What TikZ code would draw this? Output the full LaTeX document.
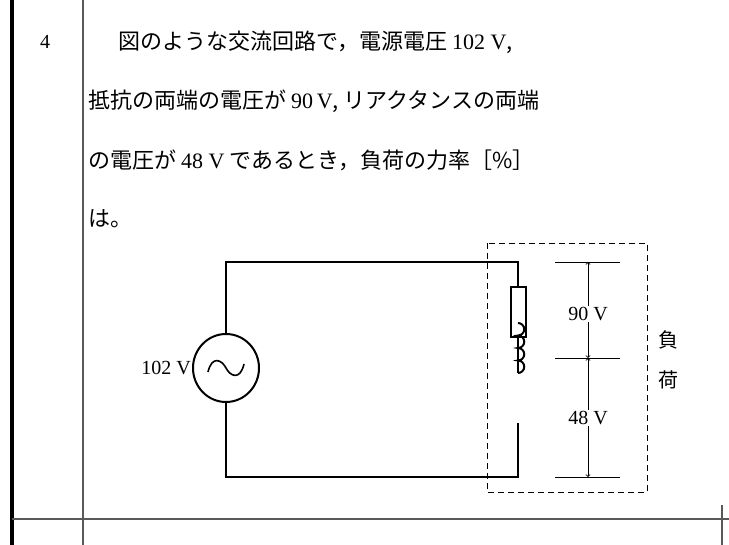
\documentclass[tikz,border=0pt]{standalone}
\usepackage{fontspec}
\usetikzlibrary{shapes.geometric}
\setmainfont{Liberation Serif}
\newfontfamily\jp{Noto Sans CJK JP}
\begin{document}
\begin{tikzpicture}[x=1pt,y=-1pt,
  wire/.style={line width=2pt},
  thin/.style={line width=0.8pt},
  lbl/.style={font=\fontsize{20}{20}\selectfont, inner sep=1pt},
  txt/.style={font=\jp\fontsize{22}{22}\selectfont, anchor=west, inner sep=0pt}]
\useasboundingbox (0,0) rectangle (729,545);
% table
\draw[line width=4pt] (12,0) -- (12,545);
\draw[line width=1.2pt, gray!70!black] (83,0) -- (83,545);
\draw[line width=1.2pt, gray!70!black] (12,519) -- (729,519);
\draw[line width=1.2pt, gray!70!black] (722,505) -- (722,545);
\node[lbl] (num) at (45,42) {4};
% text
\node[txt] (l1) at (118,42) {図のような交流回路で，電源電圧 {\rmfamily 102 V},};
\node[txt] (l2) at (88,101) {抵抗の両端の電圧が {\rmfamily 90\,V}, リアクタンスの両端};
\node[txt] (l3) at (88,160) {の電圧が {\rmfamily 48 V} であるとき，負荷の力率［\%］};
\node[txt] (l4) at (88,219) {は。};
% circuit
\coordinate (tl) at (226,262);
\coordinate (tr) at (518,262);
\coordinate (bl) at (226,477);
\coordinate (br) at (518,477);
\node[draw, wire, ellipse, minimum width=66pt, minimum height=68pt, inner sep=0pt] (src) at (226,368) {};
\draw[wire] (src.north) -- (tl) -- (tr) -- (518,287);
\draw[wire] (src.south) -- (bl) -- (br) -- (518,423);
\draw[line width=1.6pt] (208,372) .. controls (212,355) and (222,360) .. (226,368) .. controls (230,376) and (240,381) .. (244,364);
\node[draw, wire, minimum width=15pt, minimum height=50pt, inner sep=0pt] (res) at (518,312) {};
\draw[wire] (res.south) -- (518,373);
\draw[wire] (518,373) arc (90:-90:6.25) arc (90:-90:6.25) arc (90:-90:6.25) arc (90:-90:6.25);
\node[lbl, anchor=east] (v102) at (src.west) {102 V};
% load box
\draw[thin, dash pattern=on 6pt off 4pt] (487,243) rectangle (647,492);
\node[font=\jp\fontsize{20}{20}\selectfont] (fu) at (668,340) {負};
\node[font=\jp\fontsize{20}{20}\selectfont] (ka) at (668,380) {荷};
% dimension lines
\coordinate (d1a) at (555,262); \coordinate (d1b) at (620,262);
\coordinate (d2a) at (555,358); \coordinate (d2b) at (620,358);
\coordinate (d3a) at (555,477); \coordinate (d3b) at (620,477);
\draw[thin] (d1a) -- (d1b); \draw[thin] (d2a) -- (d2b); \draw[thin] (d3a) -- (d3b);
\node[lbl, fill=white] (v90) at (588,314) {90 V};
\node[lbl, fill=white] (v48) at (588,418) {48 V};
\draw[thin, ->] (v90.north) -- (588,262);
\draw[thin, ->] (v90.south) -- (588,358);
\draw[thin, ->] (v48.north) -- (588,358);
\draw[thin, ->] (v48.south) -- (588,477);
\end{tikzpicture}
\end{document}
